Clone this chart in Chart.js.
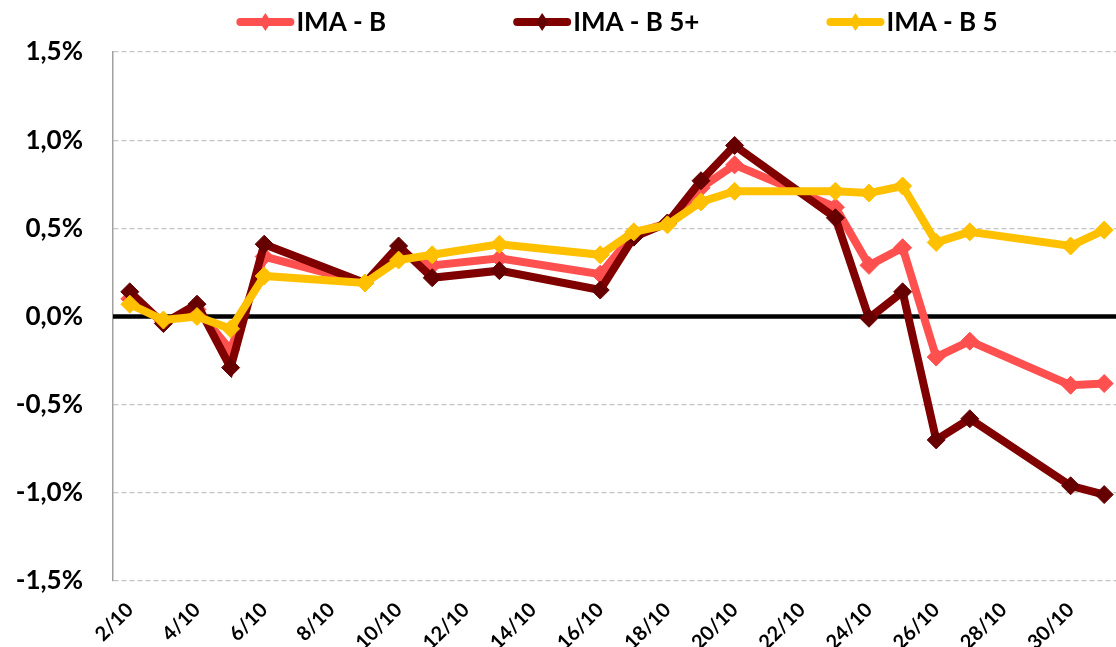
<!DOCTYPE html>
<html>
<head>
<meta charset="utf-8">
<script src="https://cdn.jsdelivr.net/npm/chart.js@4/dist/chart.umd.min.js"></script>
<style>
  html, body { margin: 0; padding: 0; background: #fff; overflow: hidden; }
</style>
</head>
<body>
<canvas id="imaChart" width="1121" height="647"></canvas>
<script>
// days of october shown on the axis (one slot per calendar day)
var dayLabels = ['2/10','3/10','4/10','5/10','6/10','7/10','8/10','9/10','10/10','11/10',
                 '12/10','13/10','14/10','15/10','16/10','17/10','18/10','19/10','20/10','21/10',
                 '22/10','23/10','24/10','25/10','26/10','27/10','28/10','29/10','30/10','31/10'];

// series names
var seriesNames = ['IMA - B', 'IMA - B 5+', 'IMA - B 5'];

// values in %, null where there is no quote
var imaB      = [0.10, -0.03, 0.04, -0.19, 0.34, null, null, 0.19, 0.36, 0.29,
                 null, 0.33, null, null, 0.24, 0.47, 0.53, 0.73, 0.86, null,
                 null, 0.62, 0.29, 0.39, -0.23, -0.14, null, null, -0.39, -0.38];
var imaB5plus = [0.14, -0.04, 0.07, -0.29, 0.41, null, null, 0.19, 0.40, 0.22,
                 null, 0.26, null, null, 0.15, 0.45, 0.53, 0.77, 0.97, null,
                 null, 0.56, -0.01, 0.14, -0.70, -0.58, null, null, -0.96, -1.01];
var imaB5     = [0.07, -0.02, 0.00, -0.07, 0.23, null, null, 0.19, 0.32, 0.35,
                 null, 0.41, null, null, 0.35, 0.48, 0.52, 0.65, 0.71, null,
                 null, 0.71, 0.70, 0.74, 0.42, 0.48, null, null, 0.40, 0.49];

var lineColors  = ['#FF5050', '#800000', '#FFC000'];
var pointColors = ['#FF5050', '#660000', '#FFC000'];

var FONT = "Lato, 'Open Sans', sans-serif";

function makeSet(i, values, order) {
    return {
        label: seriesNames[i],
        data: values,
        borderColor: lineColors[i],
        backgroundColor: lineColors[i],
        pointBackgroundColor: pointColors[i],
        pointBorderColor: pointColors[i],
        borderWidth: 8,
        pointStyle: 'rectRot',
        pointRadius: 9,
        pointBorderWidth: 1,
        tension: 0,
        spanGaps: true,
        order: order
    };
}

// black line at zero, under the series
var zeroLine = {
    id: 'zeroLine',
    beforeDatasetsDraw: function(chart) {
        var ctx = chart.ctx, y = chart.scales.y.getPixelForValue(0), a = chart.chartArea;
        ctx.save();
        ctx.strokeStyle = '#000';
        ctx.lineWidth = 4.5;
        ctx.beginPath();
        ctx.moveTo(a.left, y);
        ctx.lineTo(a.right, y);
        ctx.stroke();
        ctx.restore();
    }
};

// legend like excel: line with a diamond, then bold text
var lineLegend = {
    id: 'lineLegend',
    afterDraw: function(chart) {
        var ctx = chart.ctx, a = chart.chartArea;
        var sets = chart.data.datasets;
        var lineW = 58, textGap = 2, itemGap = 127, y = 22;
        ctx.save();
        ctx.font = 'bold 26px ' + FONT;
        var total = 0;
        sets.forEach(function(ds, i) {
            total += lineW + textGap + ctx.measureText(ds.label).width;
            if (i < sets.length - 1) total += itemGap;
        });
        var x = (a.left + a.right) / 2 - total / 2;
        sets.forEach(function(ds) {
            ctx.strokeStyle = ds.borderColor;
            ctx.lineWidth = 8;
            ctx.lineCap = 'round';
            ctx.beginPath();
            ctx.moveTo(x + 4, y);
            ctx.lineTo(x + lineW - 4, y);
            ctx.stroke();
            var cx = x + lineW / 2;
            ctx.fillStyle = ds.pointBackgroundColor;
            ctx.beginPath();
            ctx.moveTo(cx, y - 9);
            ctx.lineTo(cx + 6, y);
            ctx.lineTo(cx, y + 9);
            ctx.lineTo(cx - 6, y);
            ctx.closePath();
            ctx.fill();
            ctx.fillStyle = '#000';
            ctx.textBaseline = 'middle';
            ctx.textAlign = 'left';
            ctx.fillText(ds.label, x + lineW + textGap, y + 1);
            x += lineW + textGap + ctx.measureText(ds.label).width + itemGap;
        });
        ctx.restore();
    }
};

var ctx = document.getElementById('imaChart').getContext('2d');
var chart = new Chart(ctx, {
    type: 'line',
    data: {
        labels: dayLabels,
        datasets: [
            makeSet(0, imaB, 2),
            makeSet(1, imaB5plus, 1),
            makeSet(2, imaB5, 0)
        ]
    },
    options: {
        responsive: false,
        animation: false,
        layout: { autoPadding: false, padding: { top: 52, right: 0, left: 0, bottom: 0 } },
        plugins: {
            legend: { display: false },
            tooltip: { enabled: false }
        },
        scales: {
            x: {
                offset: true,
                grid: { display: false, drawTicks: false },
                border: { display: false },
                ticks: {
                    autoSkip: false,
                    maxRotation: 45,
                    minRotation: 45,
                    padding: 17,
                    color: '#000',
                    font: { family: FONT, size: 20, weight: 'bold' },
                    callback: function(val, idx) {
                        return idx % 2 === 0 ? dayLabels[idx] : '';
                    }
                },
                afterFit: function(scale) {
                    scale.height = 66;
                    scale.paddingLeft = 0;
                    scale.paddingRight = 0;
                }
            },
            y: {
                min: -1.5,
                max: 1.5,
                grid: {
                    drawTicks: false,
                    color: function(c) { return c.tick && c.tick.value === 0 ? 'rgba(0,0,0,0)' : '#c4c4c4'; },
                    lineWidth: 1.2
                },
                border: { display: true, color: '#a0a0a0', width: 1.5, dash: [5, 3] },
                ticks: {
                    stepSize: 0.5,
                    padding: 30,
                    color: '#000',
                    font: { family: FONT, size: 26, weight: 'bold' },
                    callback: function(v) { return v.toFixed(1).replace('.', ',') + '%'; }
                },
                afterFit: function(scale) { scale.width = 113; }
            }
        }
    },
    plugins: [zeroLine, lineLegend]
});
</script>
</body>
</html>
